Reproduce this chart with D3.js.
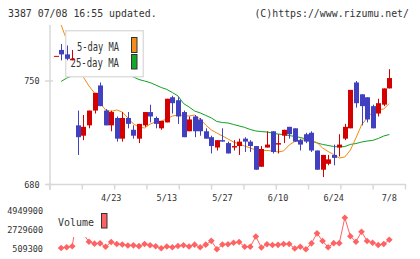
<!DOCTYPE html>
<html><head><meta charset="utf-8">
<script src="https://cdn.jsdelivr.net/npm/d3@7"></script>
<style>html,body{margin:0;padding:0;background:#fff;}svg{display:block;}</style>
</head><body>
<svg id="c" width="420" height="259"></svg>
<script>
const dateLabels = ["4/23","5/13","5/27","6/10","6/24","7/8"];
const dateIndex = [10,20,30,40,50,60];
const priceTicks = [680, 750];
const volTicks = [509300, 2729600, 4949900];

const open  = [767,771,768,764,720,713,720,730,747,730,720,725,711,725,717,711,720,729,725,718,722,739,737,729,716,726,724,716,712,705,710,708,705,706,711,709,706,692,705,716,707,713,719,718,710,714,715,703,690,694,700,705,711,718,749,741,739,733,728,734,745];
const high  = [767,775,774,771,730,727,730,742,749,731,730,726,729,729,720,721,729,734,726,723,738,740,739,730,726,727,725,718,713,710,718,709,710,711,712,710,706,706,716,716,714,717,719,718,711,715,716,703,700,700,707,714,721,744,750,741,739,734,738,745,758];
const low   = [767,764,764,764,700,710,718,728,733,720,716,709,709,718,711,708,719,722,718,717,722,728,721,712,716,712,713,711,701,703,709,701,703,700,702,702,690,692,705,701,701,708,711,709,703,708,702,690,685,693,693,699,710,718,732,720,722,718,726,733,745];
const close = [767,768,765,765,712,719,730,742,733,720,729,711,725,721,713,721,729,726,721,723,738,735,726,712,724,716,716,711,706,710,709,701,706,709,709,706,690,704,707,702,708,717,714,709,707,709,703,690,700,697,698,707,719,744,735,733,724,718,735,745,752];
const volume = [null,660000,753000,869000,4949900,2280000,1390000,1160000,1200000,810000,1350000,1120000,1070000,950000,970000,870000,1120000,985000,857000,637000,834000,753000,892000,985000,834000,1050000,741000,1050000,1490000,509300,1070000,1090000,1270000,1350000,799000,810000,1990000,718000,1090000,1010000,1030000,1120000,1120000,602000,810000,509300,1200000,2360000,1470000,741000,1220000,1220000,4170000,2020000,1380000,2550000,1470000,1270000,1010000,1120000,1610000];
const ma5 = [null,787.9,777.7,767.6,758.8,752.7,746.6,741.9,735.1,730.4,729.4,730.4,729.0,725.0,720.9,718.9,718.2,720.9,722.3,722.9,724.3,726.3,727.0,726.7,726.3,727.0,724.3,720.2,716.9,714.8,712.8,710.8,708.7,707.4,706.0,704.7,703.3,703.0,703.0,702.7,702.0,702.7,706.7,709.1,710.1,710.1,709.4,708.4,704.7,702.3,700.3,697.9,698.6,703.3,711.5,720.2,725.0,729.0,730.4,731.1,734.8];
const ma25 = [null,749.7,752.0,753.4,754.7,756.1,756.8,757.4,757.4,757.1,756.8,755.7,754.7,753.7,752.7,751.0,750.0,748.9,747.3,745.6,744.3,742.2,739.9,734.8,732.4,729.7,728.4,726.7,725.0,722.6,721.9,721.6,720.6,719.6,718.6,717.2,716.2,715.8,715.5,714.8,714.1,713.8,713.1,712.5,711.8,710.8,709.4,708.1,707.1,706.4,705.7,705.4,705.7,707.1,707.7,708.7,709.4,709.8,711.1,712.8,713.8];

const svg = d3.select("#c");
const FONT = "'DejaVu Sans Mono', 'Liberation Mono', monospace";
const TXT = "#333";
const GRID = "#d8d8d8";

const x = d3.scaleLinear().domain([-1, 63]).range([50, 406]);
const y = d3.scaleLinear().domain([680, 750]).range([184.5, 81]);
const yv = d3.scaleLinear().domain([509300, 4949900]).range([249.3, 211]);

// header
svg.append("text").attr("x", 8).attr("y", 16.5).attr("font-family", FONT).attr("font-size", 9.9)
  .attr("fill", TXT).text("3387 07/08 16:55 updated.");
svg.append("text").attr("x", 409).attr("y", 16.5).attr("text-anchor", "end").attr("font-family", FONT).attr("font-size", 9.9)
  .attr("fill", TXT).text("(C)https://www.rizumu.net/");

// axes
svg.append("line").attr("x1", 50).attr("x2", 50).attr("y1", 25).attr("y2", 190)
  .attr("stroke", GRID).attr("stroke-width", 1.5);
svg.append("line").attr("x1", 47).attr("x2", 406).attr("y1", 184.5).attr("y2", 184.5)
  .attr("stroke", GRID).attr("stroke-width", 1.5);
const tickPos = d3.scaleLinear().domain([0, 11]).range([50, 405.5]);
d3.range(12).forEach(k => {
  svg.append("line").attr("x1", tickPos(k)).attr("x2", tickPos(k)).attr("y1", 184).attr("y2", 189.5)
    .attr("stroke", GRID).attr("stroke-width", 1.5);
});
priceTicks.forEach(p => {
  svg.append("line").attr("x1", 45).attr("x2", 53).attr("y1", y(p)).attr("y2", y(p))
    .attr("stroke", GRID).attr("stroke-width", 1.5);
  svg.append("text").attr("x", 39.5).attr("y", y(p) + 3).attr("text-anchor", "end")
    .attr("font-family", FONT).attr("font-size", 8.5).attr("fill", TXT).text(p);
});
dateIndex.forEach((di, k) => {
  svg.append("text").attr("x", x(di)).attr("y", 200.5).attr("text-anchor", "middle")
    .attr("font-family", FONT).attr("font-size", 8.5).attr("fill", TXT).text(dateLabels[k]);
});
volTicks.forEach(v => {
  svg.append("text").attr("x", 43).attr("y", yv(v) + 3).attr("text-anchor", "end")
    .attr("font-family", FONT).attr("font-size", 8.5).attr("fill", TXT).text(v);
});

// clip
svg.append("clipPath").attr("id", "pc").append("rect").attr("x", 50).attr("y", 22).attr("width", 356).attr("height", 162);

const plot = svg.append("g").attr("clip-path", "url(#pc)");
const idx = d3.range(open.length);

const lineGen = arr => d3.line().defined(i => arr[i] != null).x(i => x(i)).y(i => y(arr[i]))(idx);
plot.append("path").attr("d", lineGen(ma25)).attr("fill", "none").attr("stroke", "#10a020").attr("stroke-width", 1);
plot.append("path").attr("d", lineGen(ma5)).attr("fill", "none").attr("stroke", "#f08c10").attr("stroke-width", 1);

// legend
const lg = svg.append("g");
lg.append("rect").attr("x", 65.7).attr("y", 30.7).attr("width", 77.6).attr("height", 46)
  .attr("fill", "#fff").attr("stroke", "#ddd").attr("stroke-width", 1.5);
lg.append("text").attr("x", 119).attr("y", 50.7).attr("text-anchor", "end").attr("font-family", FONT)
  .attr("font-size", 12).attr("fill", TXT).attr("textLength", 42).attr("lengthAdjust", "spacingAndGlyphs").text("5-day MA");
lg.append("text").attr("x", 119).attr("y", 67.3).attr("text-anchor", "end").attr("font-family", FONT)
  .attr("font-size", 12).attr("fill", TXT).attr("textLength", 48.5).attr("lengthAdjust", "spacingAndGlyphs").text("25-day MA");
lg.append("rect").attr("x", 131.5).attr("y", 37.5).attr("width", 5.5).attr("height", 15)
  .attr("fill", "#f28c1c").attr("stroke", "#333").attr("stroke-width", 1);
lg.append("rect").attr("x", 131.5).attr("y", 54.5).attr("width", 5.5).attr("height", 14.5)
  .attr("fill", "#14a82a").attr("stroke", "#333").attr("stroke-width", 1);

// candles
const cg = svg.append("g").attr("clip-path", "url(#pc)");
idx.forEach(i => {
  const up = close[i] >= open[i];
  const col = up ? "#d40000" : "#4040c0";
  const cx = Math.round(x(i)) + 0.5;
  cg.append("line").attr("x1", cx).attr("x2", cx).attr("y1", y(high[i])).attr("y2", y(low[i]))
    .attr("stroke", col).attr("stroke-width", 1);
  const top = y(Math.max(open[i], close[i]));
  const bot = y(Math.min(open[i], close[i]));
  cg.append("rect").attr("x", cx - 2.5).attr("y", top).attr("width", 5).attr("height", Math.max(1, bot - top))
    .attr("fill", col);
});

// volume
const vcol = "#ff6262";
const vline = d3.line().defined(i => volume[i] != null).x(i => x(i)).y(i => yv(volume[i]));
svg.append("path").attr("d", vline(idx)).attr("fill", "none").attr("stroke", vcol).attr("stroke-width", 1);
const sym = d3.symbol().type(d3.symbolSquare).size(22);
idx.filter(i => volume[i] != null).forEach(i => {
  svg.append("path").attr("d", sym()).attr("fill", vcol)
    .attr("transform", `translate(${x(i)},${yv(volume[i])}) rotate(45)`);
});
// volume legend
svg.append("rect").attr("x", 55).attr("y", 204).attr("width", 58).attr("height", 33).attr("fill", "#fff");
svg.append("text").attr("x", 58).attr("y", 226).attr("font-family", FONT).attr("font-size", 11)
  .attr("fill", TXT).attr("textLength", 36).attr("lengthAdjust", "spacingAndGlyphs").text("Volume");
svg.append("rect").attr("x", 101.5).attr("y", 213.5).attr("width", 5.5).attr("height", 14.5)
  .attr("fill", vcol).attr("stroke", "#333").attr("stroke-width", 1);
</script>
</body></html>
